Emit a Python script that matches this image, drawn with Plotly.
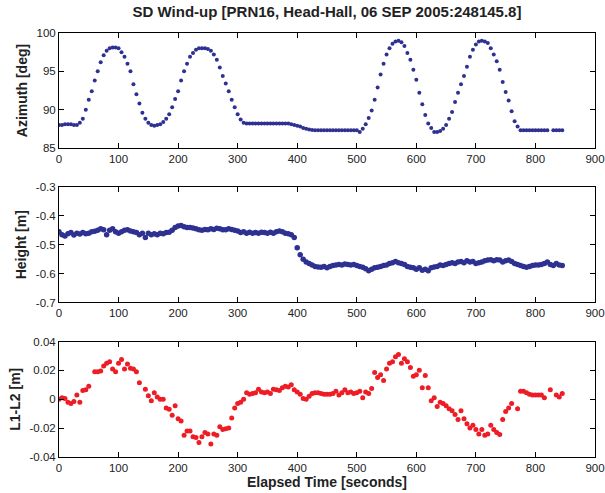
import plotly.graph_objects as go

# Sample times (seconds)
elapsed = list(range(0, 846, 5))

azimuth_deg = [
    88.0, 88.0, 88.1, 88.1, 88.1, 88.0, 88.0, 88.3, 88.8, 90.0,
    91.3, 92.4, 93.8, 95.0, 96.2, 97.1, 97.7, 98.0, 98.1, 98.1,
    98.0, 97.5, 96.9, 96.0, 95.0, 93.3, 92.0, 90.8, 89.6, 88.8,
    88.3, 88.0, 87.9, 88.0, 88.1, 88.4, 88.8, 89.4, 90.3, 91.4,
    92.4, 93.8, 95.0, 96.0, 96.9, 97.4, 97.8, 98.0, 98.0, 98.0,
    97.9, 97.7, 97.2, 96.5, 95.5, 94.4, 93.4, 92.4, 91.3, 90.3,
    89.4, 88.7, 88.3, 88.2, 88.2, 88.2, 88.2, 88.2, 88.2, 88.2,
    88.2, 88.2, 88.2, 88.2, 88.2, 88.2, 88.2, 88.2, 88.1, 88.0,
    87.9, 87.8, 87.6, 87.5, 87.4, 87.35, 87.3, 87.3, 87.3, 87.3,
    87.3, 87.3, 87.3, 87.3, 87.3, 87.3, 87.3, 87.3, 87.3, 87.3,
    87.3, 87.1, 87.5, 88.1, 88.9, 89.9, 91.3, 92.9, 94.6, 96.0,
    97.2, 98.0, 98.6, 98.9, 99.0, 98.8, 98.3, 97.4, 96.5, 95.2,
    93.9, 92.2, 90.7, 89.3, 88.2, 87.6, 87.1, 87.1, 87.2, 87.5,
    88.0, 88.8, 89.7, 91.0, 92.2, 93.3, 94.4, 95.6, 96.9, 97.8,
    98.5, 98.9, 99.0, 98.9, 98.7, 98.0, 97.2, 96.3, 95.2, 93.6,
    92.3, 91.2, 89.8, 88.5, 87.8, 87.3, 87.3, 87.3, 87.3, 87.3,
    87.3, 87.3, 87.3, 87.3, 87.3, None, 87.3, 87.3, 87.3, 87.3,
]

height_m = [
    -0.455, -0.465, -0.470, -0.462, -0.458, -0.466, -0.460, -0.463, -0.458, -0.462,
    -0.460, -0.455, -0.453, -0.450, -0.445, -0.448, -0.465, -0.450, -0.445, -0.455,
    -0.460, -0.455, -0.450, -0.448, -0.452, -0.455, -0.458, -0.465, -0.460, -0.475,
    -0.460, -0.465, -0.462, -0.465, -0.460, -0.462, -0.458, -0.457, -0.450, -0.440,
    -0.435, -0.433, -0.438, -0.440, -0.440, -0.442, -0.445, -0.448, -0.450, -0.447,
    -0.448, -0.445, -0.447, -0.443, -0.445, -0.448, -0.448, -0.445, -0.447, -0.450,
    -0.452, -0.458, -0.455, -0.460, -0.457, -0.460, -0.458, -0.460, -0.457, -0.458,
    -0.460, -0.457, -0.460, -0.455, -0.452, -0.455, -0.460, -0.462, -0.465, -0.475,
    -0.510, -0.535, -0.550, -0.560, -0.565, -0.570, -0.575, -0.577, -0.578, -0.575,
    -0.580, -0.575, -0.572, -0.570, -0.568, -0.570, -0.567, -0.568, -0.570, -0.568,
    -0.572, -0.575, -0.578, -0.583, -0.590, -0.585, -0.580, -0.578, -0.575, -0.572,
    -0.570, -0.565, -0.562, -0.558, -0.562, -0.565, -0.568, -0.575, -0.578, -0.580,
    -0.585, -0.580, -0.588, -0.585, -0.590, -0.580, -0.577, -0.575, -0.570, -0.572,
    -0.568, -0.565, -0.562, -0.565, -0.560, -0.558, -0.562, -0.555, -0.560, -0.558,
    -0.565, -0.562, -0.560, -0.555, -0.553, -0.552, -0.555, -0.552, -0.553, -0.560,
    -0.555, -0.553, -0.558, -0.565, -0.568, -0.572, -0.575, -0.578, -0.575, -0.572,
    -0.570, -0.570, -0.568, -0.565, -0.560, -0.568, -0.572, -0.565, -0.570, -0.572,
]

l1_l2_m = [
    0.0000, 0.0010, 0.0005, -0.0020, -0.0030, -0.0015, 0.0030, -0.0020, 0.0060, 0.0065,
    0.0090, None, 0.0190, 0.0190, 0.0195, 0.0230, 0.0250, 0.0260, 0.0210, 0.0190,
    0.0250, 0.0275, 0.0210, 0.0245, 0.0215, 0.0210, 0.0190, 0.0115, None, 0.0070,
    0.0025, -0.0010, 0.0045, 0.0015, 0.0000, 0.0000, -0.0060, -0.0070, -0.0110, -0.0045,
    -0.0135, -0.0150, -0.0250, -0.0220, -0.0220, -0.0260, -0.0265, -0.0300, -0.0260, -0.0230,
    -0.0240, -0.0310, -0.0240, -0.0250, -0.0190, -0.0210, -0.0205, -0.0200, -0.0130, -0.0060,
    -0.0030, -0.0020, 0.0000, 0.0045, 0.0035, 0.0040, 0.0045, 0.0070, 0.0050, 0.0045,
    0.0050, 0.0040, 0.0070, 0.0065, 0.0060, 0.0080, 0.0090, 0.0085, 0.0100, 0.0065,
    0.0050, 0.0035, 0.0005, 0.0000, 0.0020, 0.0040, 0.0045, 0.0045, 0.0040, 0.0035,
    0.0035, 0.0035, 0.0040, 0.0055, 0.0030, 0.0045, 0.0065, 0.0045, 0.0050, 0.0040,
    0.0045, 0.0055, 0.0010, 0.0050, 0.0040, 0.0075, 0.0185, 0.0150, 0.0170, 0.0130,
    0.0210, 0.0250, 0.0260, 0.0295, 0.0310, 0.0250, 0.0280, 0.0260, 0.0220, 0.0160,
    0.0170, 0.0200, 0.0080, 0.0165, 0.0080, -0.0010, 0.0010, -0.0050, -0.0020, -0.0030,
    -0.0045, -0.0065, -0.0080, -0.0105, -0.0140, -0.0080, -0.0135, -0.0170, -0.0200, -0.0180,
    -0.0210, -0.0240, -0.0210, -0.0250, -0.0240, -0.0180, -0.0210, -0.0230, -0.0245, -0.0140,
    -0.0085, -0.0060, -0.0030, None, -0.0065, 0.0055, 0.0055, 0.0045, 0.0035, 0.0030,
    0.0030, 0.0030, 0.0030, 0.0010, None, 0.0065, None, 0.0030, 0.0015, 0.0040,
]

x_ticks = [0, 100, 200, 300, 400, 500, 600, 700, 800, 900]
az_ticks = [85, 90, 95, 100]
h_ticks = [-0.7, -0.6, -0.5, -0.4, -0.3]
h_labels = ["-0.7", "-0.6", "-0.5", "-0.4", "-0.3"]
l_ticks = [-0.04, -0.02, 0, 0.02, 0.04]
l_labels = ["-0.04", "-0.02", "0", "0.02", "0.04"]

BLUE = "#2E3192"
RED = "#EE1C25"
FONT = "Liberation Sans, Arial, sans-serif"
TXT = "#222222"

fig = go.Figure()
fig.add_trace(go.Scatter(x=elapsed, y=azimuth_deg, mode="markers",
                         marker=dict(color=BLUE, size=4), xaxis="x", yaxis="y"))
fig.add_trace(go.Scatter(x=elapsed, y=height_m, mode="markers",
                         marker=dict(color=BLUE, size=5.5), xaxis="x2", yaxis="y2"))
fig.add_trace(go.Scatter(x=elapsed, y=l1_l2_m, mode="markers",
                         marker=dict(color=RED, size=5), xaxis="x3", yaxis="y3"))

axis_common = dict(showline=True, linecolor="black", linewidth=1, mirror="ticks",
                   ticks="inside", ticklen=5, tickcolor="black", showgrid=False,
                   zeroline=False, automargin=False,
                   tickfont=dict(family=FONT, size=11.5, color=TXT))

xcommon = dict(axis_common, range=[0, 900], tickvals=x_ticks, domain=[0, 1])
ytitle_font = dict(family=FONT, size=14, color=TXT)
fig.update_layout(
    width=605, height=493,
    margin=dict(l=59, r=10, t=33, b=36),
    paper_bgcolor="white", plot_bgcolor="white",
    showlegend=False,
    title=dict(text="<b>SD Wind-up [PRN16, Head-Hall, 06 SEP 2005:248145.8]</b>",
               x=0.5, xref="paper", y=1 - 12 / 493, yref="container", yanchor="middle",
               automargin=False,
               font=dict(family=FONT, size=15, color=TXT)),
    xaxis=dict(xcommon, anchor="y"),
    xaxis2=dict(xcommon, anchor="y2"),
    xaxis3=dict(xcommon, anchor="y3",
                title=dict(text="<b>Elapsed Time [seconds]</b>", standoff=0,
                           font=dict(family=FONT, size=14, color=TXT))),
    yaxis=dict(axis_common, domain=[0.7288, 1.0], range=[85, 100], tickvals=az_ticks,
               anchor="x",
               title=dict(text="<b>Azimuth [deg]</b>", standoff=5, font=ytitle_font)),
    yaxis2=dict(axis_common, domain=[0.3644, 0.6368], range=[-0.7, -0.3],
                tickvals=h_ticks, ticktext=h_labels, anchor="x2",
                title=dict(text="<b>Height [m]</b>", standoff=5, font=ytitle_font)),
    yaxis3=dict(axis_common, domain=[0.0, 0.2724], range=[-0.04, 0.04],
                tickvals=l_ticks, ticktext=l_labels, anchor="x3",
                title=dict(text="<b>L1-L2 [m]</b>", standoff=5, font=ytitle_font)),
)

fig.write_html("out.html", config={"displayModeBar": False},
               post_script="document.body.style.margin='0';document.body.style.overflow='hidden';")
